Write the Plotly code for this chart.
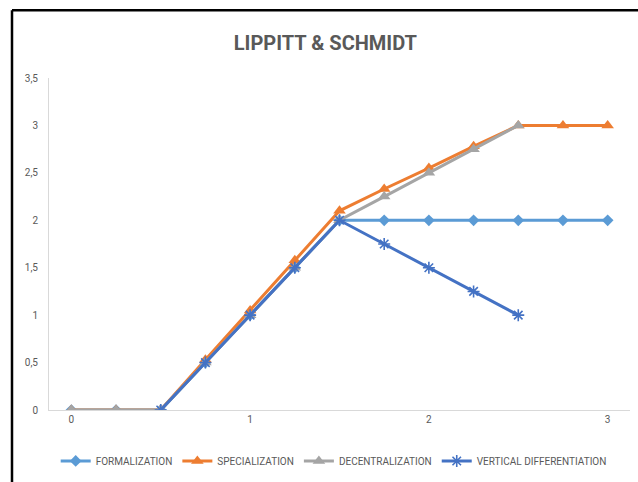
import plotly.graph_objects as go

# Stage positions along the horizontal axis
stages = [0, 0.25, 0.5, 0.75, 1, 1.25, 1.5, 1.75, 2, 2.25, 2.5, 2.75, 3]

formalization = [0, 0, 0, 0.5, 1, 1.5, 2, 2, 2, 2, 2, 2, 2]
specialization = [0, 0, 0, 0.53, 1.05, 1.58, 2.1, 2.33, 2.55, 2.78, 3, 3, 3]
decentralization = [0, 0, 0, 0.5, 1, 1.5, 2, 2.25, 2.5, 2.75, 3, None, None]
vertical_diff = [None, None, 0, 0.5, 1, 1.5, 2, 1.75, 1.5, 1.25, 1, None, None]

y_ticks = [0, 0.5, 1, 1.5, 2, 2.5, 3, 3.5]
y_tick_labels = ["0", "0,5", "1", "1,5", "2", "2,5", "3", "3,5"]
x_ticks = [0, 1, 2, 3]
x_tick_labels = ["0", "1", "2", "3"]

FONT = "Roboto, sans-serif"
TEXT = "#595959"

series = [
    ("FORMALIZATION", formalization, "#5B9BD5", dict(symbol="diamond", size=9)),
    ("SPECIALIZATION", specialization, "#ED7D31", dict(symbol="triangle-up", size=11)),
    ("DECENTRALIZATION", decentralization, "#A5A5A5", dict(symbol="triangle-up", size=11)),
    ("VERTICAL DIFFERENTIATION", vertical_diff, "#4472C4",
     dict(symbol="asterisk", size=10, line=dict(width=1.6, color="#4472C4"))),
]

fig = go.Figure()
for name, vals, color, marker in series:
    fig.add_trace(go.Scatter(
        x=stages, y=vals, name=name, mode="lines+markers",
        line=dict(color=color, width=3),
        marker=dict(color=color, **marker),
        connectgaps=False,
    ))

fig.update_layout(
    width=638, height=482,
    margin=dict(l=49, r=8, t=78, b=71),
    paper_bgcolor="white", plot_bgcolor="white",
    font=dict(family=FONT, color=TEXT, size=10),
    title=dict(text="<b>LIPPITT & SCHMIDT</b>", x=0.51, xanchor="center",
               y=1 - 43 / 482, yanchor="middle",
               font=dict(family=FONT, size=20, color=TEXT)),
    xaxis=dict(range=[-0.125, 3.125], tickvals=x_ticks, ticktext=x_tick_labels,
               showgrid=False, zeroline=False, showline=True, linecolor="#D9D9D9",
               linewidth=1, ticks="", ticklen=0, tickfont=dict(size=10, color=TEXT)),
    yaxis=dict(range=[0, 3.5], tickvals=y_ticks, ticktext=y_tick_labels,
               showgrid=False, zeroline=False, showline=True, linecolor="#D9D9D9",
               linewidth=1, ticks="outside", ticklen=8, tickcolor="rgba(0,0,0,0)",
               tickfont=dict(size=10, color=TEXT)),
    legend=dict(orientation="h", x=0.49, xanchor="center", y=-0.15, yanchor="middle",
                font=dict(size=10, color=TEXT), itemwidth=30, tracegroupgap=0),
    showlegend=True,
)

# Outer chart frame (left and top edges visible)
fig.add_shape(type="line", xref="paper", yref="paper",
              x0=-37 / 581, x1=1.1, y0=1 + 68 / 333, y1=1 + 68 / 333,
              line=dict(color="black", width=2.5))
fig.add_shape(type="line", xref="paper", yref="paper",
              x0=-37 / 581, x1=-37 / 581, y0=1 + 68 / 333, y1=-0.3,
              line=dict(color="black", width=2.5))

fig.write_html("out.html")
